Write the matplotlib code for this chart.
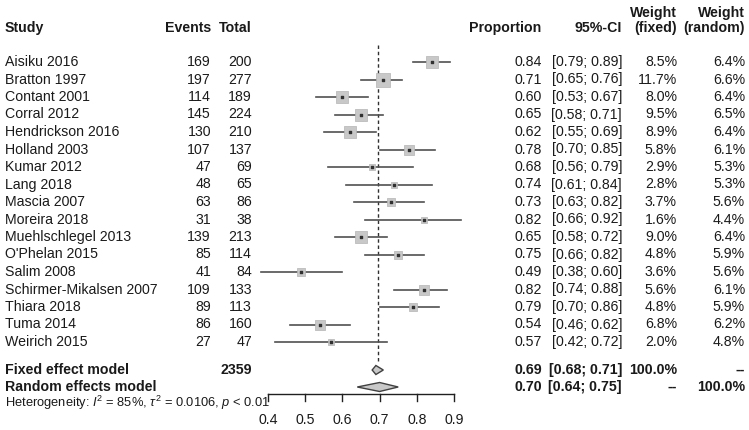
import matplotlib
matplotlib.use("Agg")
import matplotlib.pyplot as plt
from matplotlib.patches import Polygon

plt.rcParams['font.family'] = ['Liberation Sans', 'DejaVu Sans']
plt.rcParams['mathtext.fontset'] = 'custom'
plt.rcParams['mathtext.rm'] = 'Liberation Sans'
plt.rcParams['mathtext.it'] = 'Liberation Sans:italic'

# data
studies = ["Aisiku 2016", "Bratton 1997", "Contant 2001", "Corral 2012",
           "Hendrickson 2016", "Holland 2003", "Kumar 2012", "Lang 2018",
           "Mascia 2007", "Moreira 2018", "Muehlschlegel 2013", "O'Phelan 2015",
           "Salim 2008", "Schirmer-Mikalsen 2007", "Thiara 2018", "Tuma 2014",
           "Weirich 2015"]
events = [169, 197, 114, 145, 130, 107, 47, 48, 63, 31, 139, 85, 41, 109, 89, 86, 27]
totals = [200, 277, 189, 224, 210, 137, 69, 65, 86, 38, 213, 114, 84, 133, 113, 160, 47]
prop = [0.84, 0.71, 0.60, 0.65, 0.62, 0.78, 0.68, 0.74, 0.73, 0.82, 0.65, 0.75,
        0.49, 0.82, 0.79, 0.54, 0.57]
ci_lo = [0.79, 0.65, 0.53, 0.58, 0.55, 0.70, 0.56, 0.61, 0.63, 0.66, 0.58, 0.66,
         0.38, 0.74, 0.70, 0.46, 0.42]
ci_hi = [0.89, 0.76, 0.67, 0.71, 0.69, 0.85, 0.79, 0.84, 0.82, 0.92, 0.72, 0.82,
         0.60, 0.88, 0.86, 0.62, 0.72]
w_fixed = [8.5, 11.7, 8.0, 9.5, 8.9, 5.8, 2.9, 2.8, 3.7, 1.6, 9.0, 4.8, 3.6, 5.6,
           4.8, 6.8, 2.0]
w_random = [6.4, 6.6, 6.4, 6.5, 6.4, 6.1, 5.3, 5.3, 5.6, 4.4, 6.4, 5.9, 5.6, 6.1,
            5.9, 6.2, 4.8]

total_n = 2359
fixed_est, fixed_lo, fixed_hi = 0.69, 0.68, 0.71
random_est, random_lo, random_hi = 0.70, 0.64, 0.75
ref_line = 0.697
xticks = [0.4, 0.5, 0.6, 0.7, 0.8, 0.9]
het_text = r"Heterogeneity: $I^2$ = 85%, $\tau^2$ = 0.0106, $p$ < 0.01"

W, H = 749, 430
fig = plt.figure(figsize=(W / 100, H / 100), dpi=100)

# text layer in pixel coordinates
tax = fig.add_axes([0, 0, 1, 1])
tax.set_xlim(0, W)
tax.set_ylim(H, 0)
tax.axis('off')

# plot layer: 0.4 sits at px 268, 0.9 at px 454
px0, scale = 268, 372.0
ax = fig.add_axes([0, 0, 1, 1])
ax.set_xlim(0.4 - px0 / scale, 0.4 + (W - px0) / scale)
ax.set_ylim(H, 0)
ax.axis('off')
ax.patch.set_alpha(0)

fs = 10.2
tc = '#1a1a1a'
y0, dy = 62, 17.5
y_fixed, y_random = 370, 387

# headers
hy = 28
tax.text(5, hy, "Study", fontsize=fs, fontweight='bold', va='center', color=tc)
tax.text(211, hy, "Events", fontsize=fs, fontweight='bold', va='center', ha='right', color=tc)
tax.text(252, hy, "Total", fontsize=fs, fontweight='bold', va='center', ha='right', color=tc)
tax.text(541, hy, "Proportion", fontsize=fs, fontweight='bold', va='center', ha='right', color=tc)
tax.text(622, hy, "95%-CI", fontsize=fs, fontweight='bold', va='center', ha='right', color=tc)
tax.text(677, 13, "Weight", fontsize=fs, fontweight='bold', va='center', ha='right', color=tc)
tax.text(677, hy, "(fixed)", fontsize=fs, fontweight='bold', va='center', ha='right', color=tc)
tax.text(745, 13, "Weight", fontsize=fs, fontweight='bold', va='center', ha='right', color=tc)
tax.text(745, hy, "(random)", fontsize=fs, fontweight='bold', va='center', ha='right', color=tc)

# study rows
for i, name in enumerate(studies):
    y = y0 + i * dy
    tax.text(5, y, name, fontsize=fs, va='center', color=tc)
    tax.text(211, y, str(events[i]), fontsize=fs, va='center', ha='right', color=tc)
    tax.text(252, y, str(totals[i]), fontsize=fs, va='center', ha='right', color=tc)
    tax.text(542, y, f"{prop[i]:.2f}", fontsize=fs, va='center', ha='right', color=tc)
    tax.text(622, y, f"[{ci_lo[i]:.2f}; {ci_hi[i]:.2f}]", fontsize=fs, va='center', ha='right', color=tc)
    tax.text(677, y, f"{w_fixed[i]:.1f}%", fontsize=fs, va='center', ha='right', color=tc)
    tax.text(745, y, f"{w_random[i]:.1f}%", fontsize=fs, va='center', ha='right', color=tc)

    ax.plot([ci_lo[i], ci_hi[i]], [y, y], color='#505050', lw=1.2, zorder=2)
    side_pt = 14 * (w_fixed[i] / 11.7) ** 0.5 * 0.72
    ax.scatter([prop[i]], [y], marker='s', s=side_pt ** 2, color='#c8c8c8',
               edgecolors='#b4b4b4', linewidths=0.5, zorder=3)
    ax.scatter([prop[i]], [y], marker='s', s=2.5, color='#303030', zorder=4)

# pooled rows
tax.text(5, y_fixed, "Fixed effect model", fontsize=fs, fontweight='bold', va='center', color=tc)
tax.text(252, y_fixed, str(total_n), fontsize=fs, fontweight='bold', va='center', ha='right', color=tc)
tax.text(542, y_fixed, f"{fixed_est:.2f}", fontsize=fs, fontweight='bold', va='center', ha='right', color=tc)
tax.text(622, y_fixed, f"[{fixed_lo:.2f}; {fixed_hi:.2f}]", fontsize=fs, fontweight='bold', va='center', ha='right', color=tc)
tax.text(677, y_fixed, "100.0%", fontsize=fs, fontweight='bold', va='center', ha='right', color=tc)
tax.text(745, y_fixed, "--", fontsize=fs, fontweight='bold', va='center', ha='right', color=tc)

tax.text(5, y_random, "Random effects model", fontsize=fs, fontweight='bold', va='center', color=tc)
tax.text(542, y_random, f"{random_est:.2f}", fontsize=fs, fontweight='bold', va='center', ha='right', color=tc)
tax.text(622, y_random, f"[{random_lo:.2f}; {random_hi:.2f}]", fontsize=fs, fontweight='bold', va='center', ha='right', color=tc)
tax.text(677, y_random, "--", fontsize=fs, fontweight='bold', va='center', ha='right', color=tc)
tax.text(745, y_random, "100.0%", fontsize=fs, fontweight='bold', va='center', ha='right', color=tc)

tax.text(5, 403, het_text, fontsize=9.3, va='center', color=tc)

# diamonds
for est, lo, hi, y in [(fixed_est, fixed_lo, fixed_hi, y_fixed),
                       (random_est, random_lo, random_hi, y_random)]:
    d = Polygon([(lo, y), (est, y - 4.5), (hi, y), (est, y + 4.5)], closed=True,
                facecolor='#c8c8c8', edgecolor='#404040', lw=1, zorder=3)
    ax.add_patch(d)

# reference line
ax.plot([ref_line, ref_line], [45, 363], color='#303030', lw=1,
        linestyle=(0, (2.5, 2)), zorder=1)

# x axis
axis_y = 394
ax.plot([xticks[0], xticks[-1]], [axis_y, axis_y], color='#202020', lw=1)
for t in xticks:
    ax.plot([t, t], [axis_y, axis_y + 7], color='#202020', lw=1)
    ax.text(t, 420, f"{t:.1f}", fontsize=fs, ha='center', va='center', color=tc)

fig.savefig("out.png", dpi=100, facecolor='white')
